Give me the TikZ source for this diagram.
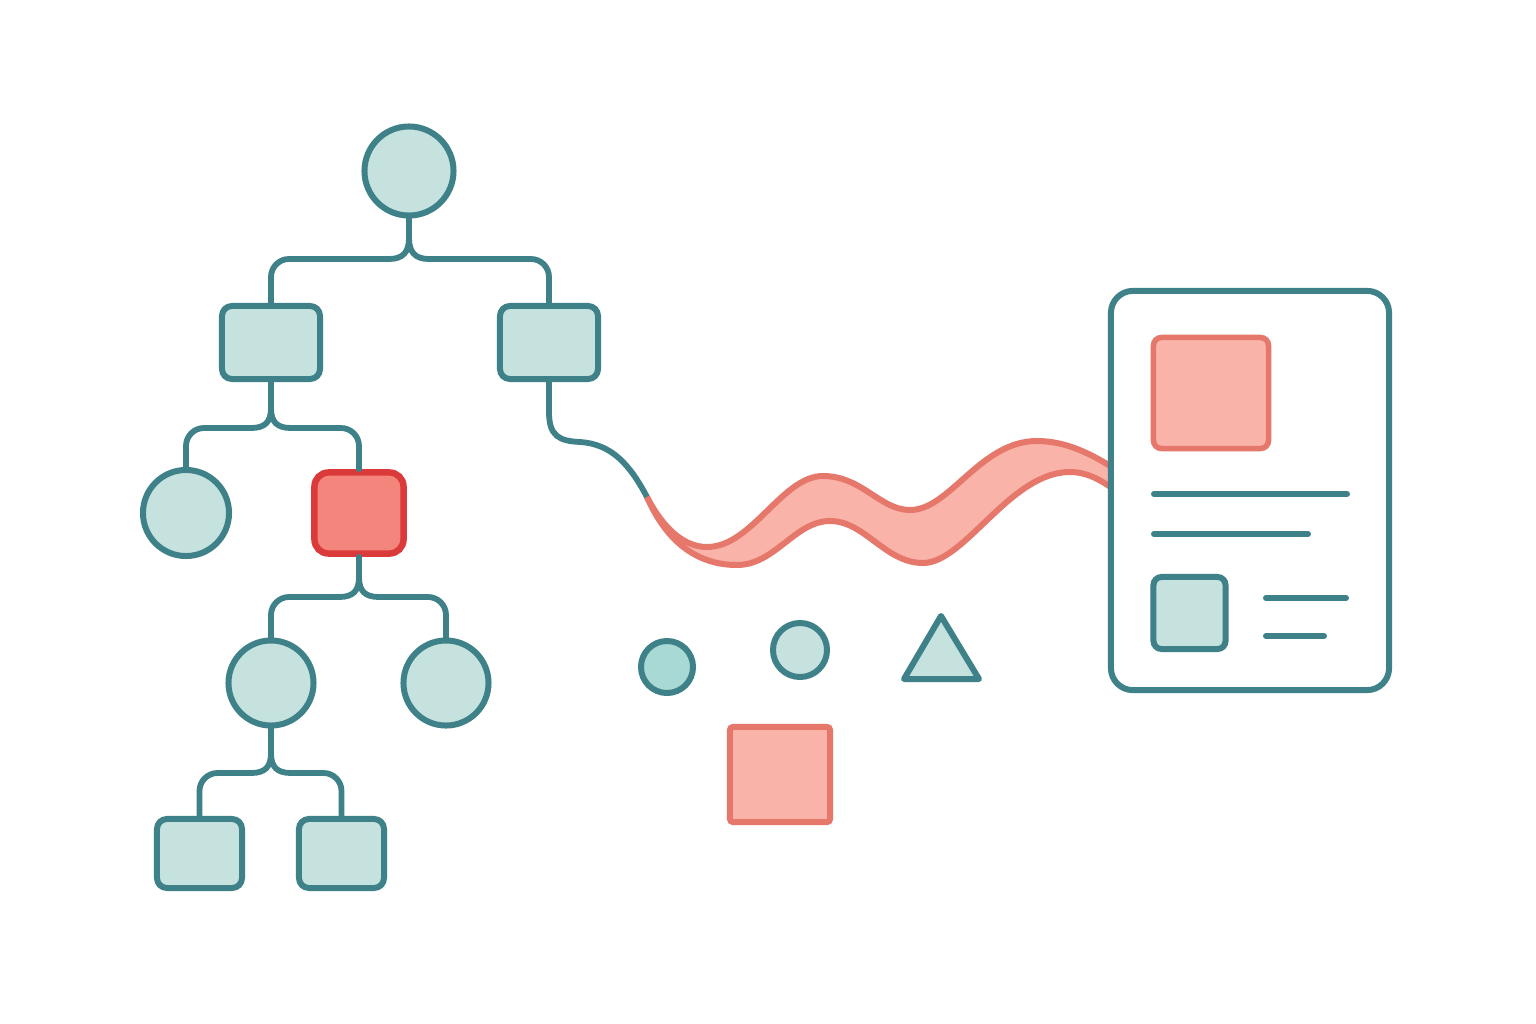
\documentclass[tikz,border=0pt]{standalone}
\usetikzlibrary{calc}
\definecolor{teal1}{HTML}{3E8189}
\definecolor{tealfill}{HTML}{C5E2DF}
\definecolor{tealfill2}{HTML}{A9D9D4}
\definecolor{coral}{HTML}{E6776B}
\definecolor{coralfill}{HTML}{F9B3A8}
\definecolor{redline}{HTML}{DA3B3A}
\definecolor{redfill}{HTML}{F4857C}
\tikzset{
  tnode/.style={draw=teal1, fill=tealfill, line width=0.06cm},
  tcirc/.style={tnode, circle, inner sep=0pt, minimum size=#1},
  tbox/.style={tnode, rectangle, rounded corners=0.1cm, inner sep=0pt},
  conn/.style={draw=teal1, line width=0.058cm, line cap=round},
  docline/.style={draw=teal1, line width=0.06cm, line cap=round},
  cline/.style={draw=coral, line width=0.06cm},
}
\begin{document}
\begin{tikzpicture}[x=0.01cm,y=-0.01cm]
\useasboundingbox (0,0) rectangle (1536,1024);
\fill[white] (0,0) rectangle (1536,1024);

% ---- tree nodes
\node[tcirc=0.89cm] (root) at (409,171) {};
\node[tbox, minimum width=0.98cm, minimum height=0.73cm] (b1) at (271,342.5) {};
\node[tbox, minimum width=0.98cm, minimum height=0.73cm] (b2) at (549,342.5) {};
\node[tcirc=0.86cm] (cl) at (186,513) {};
\node[draw=redline, fill=redfill, line width=0.065cm, rounded corners=0.14cm, inner sep=0pt,
      minimum width=0.89cm, minimum height=0.81cm] (red) at (359,513) {};
\node[tcirc=0.85cm] (c3) at (271,683) {};
\node[tcirc=0.85cm] (c4) at (446,683) {};
\node[tbox, minimum width=0.85cm, minimum height=0.69cm] (b3) at (199.5,853.5) {};
\node[tbox, minimum width=0.85cm, minimum height=0.69cm] (b4) at (341.5,853.5) {};

% ---- forks
% root
\draw[conn] (root.south) -- (409,238) .. controls (409,252) and (403,259) .. (389,259)
   [rounded corners=0.18cm] -- (271,259) -- (b1.north);
\draw[conn] (409,238) .. controls (409,252) and (415,259) .. (429,259)
   [rounded corners=0.18cm] -- (549,259) -- (b2.north);
% b1
\draw[conn] (b1.south) -- (271,408) .. controls (271,422) and (265,428) .. (251,428)
   [rounded corners=0.18cm] -- (186,428) -- (cl.north);
\draw[conn] (271,408) .. controls (271,422) and (277,428) .. (291,428)
   [rounded corners=0.18cm] -- (359,428) -- (red.north);
% red
\draw[conn] (red.south) -- (359,577) .. controls (359,591) and (353,597) .. (339,597)
   [rounded corners=0.18cm] -- (271,597) -- (c3.north);
\draw[conn] (359,577) .. controls (359,591) and (365,597) .. (379,597)
   [rounded corners=0.18cm] -- (446,597) -- (c4.north);
% c3
\draw[conn] (c3.south) -- (271,753) .. controls (271,767) and (265,773) .. (251,773)
   [rounded corners=0.18cm] -- (199.5,773) -- (b3.north);
\draw[conn] (271,753) .. controls (271,767) and (277,773) .. (291,773)
   [rounded corners=0.18cm] -- (341.5,773) -- (b4.north);

% ---- connector from b2 to ribbon
\coordinate (rs) at (647,497);
\draw[conn] (b2.south) -- (549,412) .. controls (549,436) and (559,441) .. (580,442)
   .. controls (612,444) and (630,465) .. (rs);

% ---- ribbon
\fill[coralfill] (rs) .. controls (664,530) and (685,547) .. (707,547)
   .. controls (752,547) and (782,476) .. (823,476)
   .. controls (862,476) and (880,510) .. (910,510)
   .. controls (950,510) and (980,441) .. (1037,441)
   .. controls (1065,441) and (1090,453) .. (1115,469)
   -- (1115,490)
   .. controls (1098,478) and (1085,472) .. (1070,472)
   .. controls (1010,472) and (965,563) .. (923,563)
   .. controls (885,563) and (865,521) .. (830,521)
   .. controls (795,521) and (775,565) .. (737,565)
   .. controls (700,565) and (668,545) .. (rs) -- cycle;
\draw[cline] (rs) .. controls (664,530) and (685,547) .. (707,547)
   .. controls (752,547) and (782,476) .. (823,476)
   .. controls (862,476) and (880,510) .. (910,510)
   .. controls (950,510) and (980,441) .. (1037,441)
   .. controls (1065,441) and (1090,453) .. (1115,469);
\draw[cline] (rs) .. controls (668,545) and (700,565) .. (737,565)
   .. controls (775,565) and (795,521) .. (830,521)
   .. controls (865,521) and (885,563) .. (923,563)
   .. controls (965,563) and (1010,472) .. (1070,472)
   .. controls (1085,472) and (1098,478) .. (1115,490);

% ---- document
\node[draw=teal1, fill=white, line width=0.06cm, rounded corners=0.22cm, inner sep=0pt,
      minimum width=2.78cm, minimum height=3.99cm] (doc) at (1250,490.5) {};
\node[draw=coral, fill=coralfill, line width=0.055cm, rounded corners=0.08cm, inner sep=0pt,
      minimum width=1.15cm, minimum height=1.11cm] (img) at (1211,393) {};
\coordinate (l1a) at (1154,494); \coordinate (l1b) at (1347,494);
\coordinate (l2a) at (1154,534); \coordinate (l2b) at (1308,534);
\draw[docline] (l1a) -- (l1b);
\draw[docline] (l2a) -- (l2b);
\node[tbox, rounded corners=0.08cm, minimum width=0.72cm, minimum height=0.72cm] (thumb) at (1189.5,613) {};
\coordinate (l3a) at (1266,598); \coordinate (l3b) at (1346,598);
\coordinate (l4a) at (1266,636); \coordinate (l4b) at (1324,636);
\draw[docline] (l3a) -- (l3b);
\draw[docline] (l4a) -- (l4b);

% ---- loose shapes
\node[tcirc=0.52cm, fill=tealfill2] (s1) at (667,667) {};
\node[tcirc=0.54cm] (s2) at (800,650) {};
\draw[draw=teal1, fill=tealfill, line width=0.06cm, line join=round]
  (941,616) -- (979,679) -- (904,679) -- cycle;
\node[draw=coral, fill=coralfill, line width=0.06cm, rounded corners=0.03cm, inner sep=0pt,
      minimum width=1.0cm, minimum height=0.95cm] (sq) at (780,774.5) {};
\end{tikzpicture}
\end{document}
